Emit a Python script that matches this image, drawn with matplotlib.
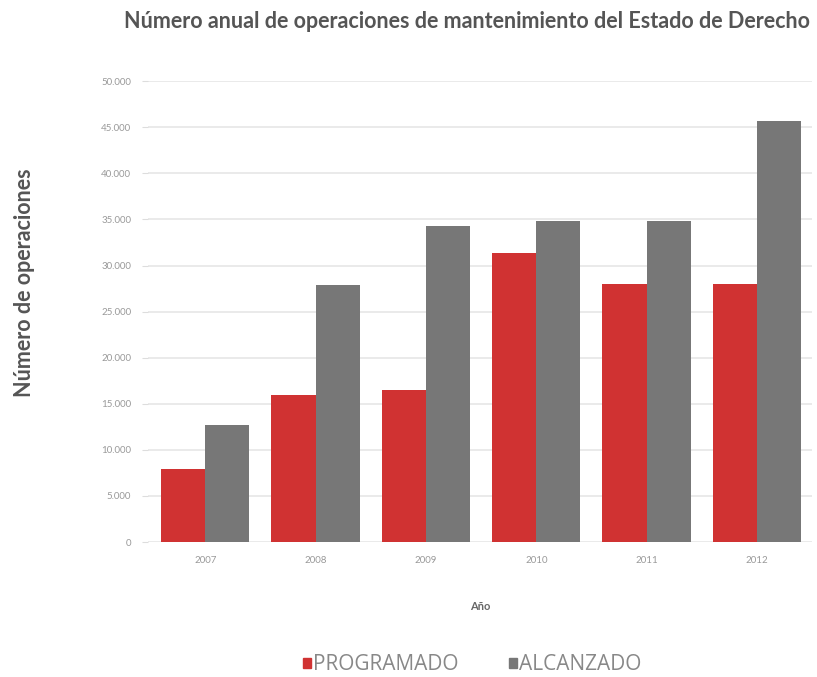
import matplotlib
matplotlib.use('Agg')
import matplotlib.pyplot as plt
import matplotlib.ticker as ticker
from matplotlib.patches import Patch
import numpy as np

years = ['2007', '2008', '2009', '2010', '2011', '2012']
programado = [7900, 16000, 16500, 31400, 28000, 28000]
alcanzado = [12700, 27900, 34300, 34800, 34800, 45700]

RED = '#d03232'
GRAY = '#777777'

plt.rcParams['font.family'] = ['Lato', 'DejaVu Sans']

fig = plt.figure(figsize=(8.17, 6.77), dpi=100)
ax = fig.add_axes([0.181, 0.1994, 0.813, 0.6806])

x = np.arange(len(years))
width = 0.4
ax.bar(x - width / 2, programado, width, color=RED, zorder=3)
ax.bar(x + width / 2, alcanzado, width, color=GRAY, zorder=3)

ax.set_xlim(-0.52, 5.5)
ax.set_ylim(0, 50000)
ax.yaxis.set_major_locator(ticker.MultipleLocator(5000))
ax.yaxis.set_major_formatter(ticker.FuncFormatter(
    lambda v, p: f'{int(v):,}'.replace(',', '.')))
ax.grid(axis='y', color='#e6e6e6', linewidth=1.2, zorder=0)
ax.set_axisbelow(True)
for s in ax.spines.values():
    s.set_visible(False)

ax.set_xticks(x)
ax.set_xticklabels(years)
ax.tick_params(axis='x', length=0, pad=10, labelsize=7, labelcolor='#999999')
ax.tick_params(axis='y', length=4, width=0.8, color='#dddddd', pad=8,
               labelsize=7, labelcolor='#999999')

ax.set_xlabel('Año', fontsize=8, fontweight='bold', color='#666666',
              labelpad=26)
fig.text(0.03, 0.582, 'Número de operaciones', rotation=90, ha='center',
         va='center', fontsize=15.5, fontweight='bold', color='#555555')
fig.text(0.572, 0.968, 'Número anual de operaciones de mantenimiento del Estado de Derecho',
         ha='center', va='center', fontsize=15.5, fontweight='bold',
         color='#555555')

handles = [Patch(color=RED, label='PROGRAMADO'),
           Patch(color=GRAY, label='ALCANZADO')]
leg = fig.legend(handles=handles, loc='center', bbox_to_anchor=(0.578, 0.018),
                 ncol=2, frameon=False, handlelength=0.4,
                 handleheight=0.4, handletextpad=0.1, columnspacing=2.4,
                 labelcolor='#888888',
                 prop={'family': ['Open Sans', 'DejaVu Sans'], 'size': 15})

fig.savefig('out.png', dpi=100)
